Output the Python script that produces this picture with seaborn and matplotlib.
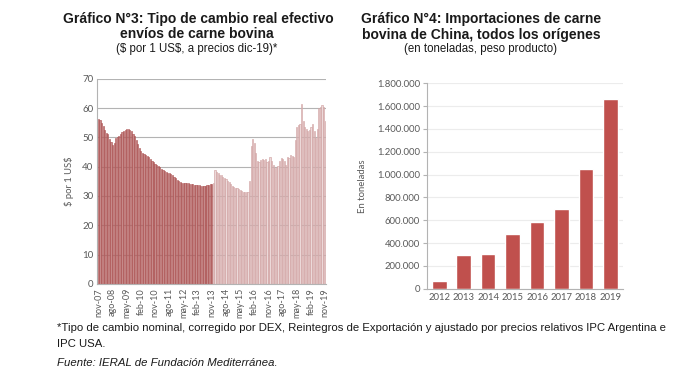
import matplotlib
matplotlib.use("Agg")
import matplotlib.pyplot as plt
import numpy as np
import pandas as pd
import seaborn as sns

# Gráfico 3: tipo de cambio real efectivo, mensual nov-07 .. nov-19
tcr = [
    56.3, 55.8, 55.0, 54.0, 52.5, 51.5, 51.0, 49.5, 48.3, 47.5,
    48.0, 49.8, 50.2, 50.5, 51.0, 51.8, 52.3, 52.5, 52.8, 52.8,
    52.5, 52.0, 51.3, 50.3, 49.0, 47.8, 46.2, 45.3, 44.8, 44.4,
    44.0, 43.6, 43.2, 42.6, 42.0, 41.5, 41.0, 40.6, 40.3, 39.8,
    39.2, 38.9, 38.6, 38.3, 38.0, 37.7, 37.4, 37.0, 36.5, 36.0,
    35.5, 35.0, 34.7, 34.5, 34.4, 34.3, 34.3, 34.3, 34.2, 34.2,
    34.0, 33.9, 33.8, 33.7, 33.6, 33.5, 33.5, 33.4, 33.5, 33.7,
    33.9, 34.0, 34.2, 34.5, 39.0, 38.2, 37.8, 37.3, 37.0, 36.5,
    36.2, 35.8, 35.2, 34.6, 34.2, 33.4, 33.0, 32.8, 32.6, 32.3,
    32.0, 31.8, 31.5, 31.3, 31.5, 31.3, 35.0, 47.0, 49.3, 48.2,
    44.8, 41.8, 41.5, 42.3, 42.5, 42.2, 42.7, 41.7, 42.0, 43.4,
    41.8, 40.6, 39.5, 40.0, 40.2, 42.0, 43.0, 42.5, 42.0, 40.6,
    43.4, 43.0, 44.0, 43.8, 43.4, 49.0, 53.7, 54.2, 54.4, 61.3,
    55.6, 53.5, 53.0, 52.0, 52.6, 53.7, 54.4, 52.0, 49.8, 53.0,
    60.0, 60.5, 61.0, 60.3, 55.5,
]
n_oscuro = 73  # hasta nov-13 inclusive
tick_meses = ["nov-07", "ago-08", "may-09", "feb-10", "nov-10", "ago-11",
              "may-12", "feb-13", "nov-13", "ago-14", "may-15", "feb-16",
              "nov-16", "ago-17", "may-18", "feb-19", "nov-19"]

# Gráfico 4: importaciones de carne bovina de China (toneladas)
anios = ["2012", "2013", "2014", "2015", "2016", "2017", "2018", "2019"]
importaciones = [67000, 295000, 301000, 476000, 581000, 698000, 1046000, 1666000]

sns.set_style("white")
plt.rcParams['font.family'] = ['Liberation Sans', 'DejaVu Sans']
tick_font = ['Lato', 'DejaVu Sans']
gris = '#595959'

fig = plt.figure(figsize=(6.91, 3.75), dpi=100)
ax1 = fig.add_axes([0.141, 0.243, 0.331, 0.547])
ax2 = fig.add_axes([0.618, 0.230, 0.283, 0.548])

# ---- grafico 3
df1 = pd.DataFrame({
    'mes': np.arange(len(tcr)),
    'valor': tcr,
    'periodo': ['a' if i < n_oscuro else 'b' for i in range(len(tcr))],
})
sns.barplot(data=df1, x='mes', y='valor', hue='periodo', dodge=False,
            palette={'a': '#d08080', 'b': '#efd6d6'}, width=0.75,
            legend=False, ax=ax1)
bordes = {0: '#a84848', 1: '#cc9a9a'}
for k, cont in enumerate(ax1.containers):
    for b in cont:
        b.set_edgecolor(bordes[k])
        b.set_linewidth(0.4)
ax1.set_xlim(-0.6, len(tcr) - 0.4)
ax1.set_ylim(0, 70)
ax1.set_yticks(range(0, 71, 10))
ax1.yaxis.grid(True, color='#b3b3b3', linewidth=0.8)
ax1.set_axisbelow(True)
ax1.set_xticks(range(0, len(tcr), 9))
ax1.set_xticklabels(tick_meses, rotation=90, fontsize=6.5, color=gris, family=tick_font)
for lab in ax1.get_yticklabels():
    lab.set_fontsize(7)
    lab.set_color(gris)
    lab.set_family(tick_font)
ax1.tick_params(axis='both', length=0, pad=3)
ax1.set_xlabel('')
ax1.set_ylabel(r'\$ por 1 US\$', fontsize=6.8, color=gris, family=tick_font, labelpad=6)
for s in ['top', 'right']:
    ax1.spines[s].set_visible(False)
ax1.spines['left'].set_color('#b3b3b3')
ax1.spines['bottom'].set_color('#b3b3b3')

# ---- grafico 4
df2 = pd.DataFrame({'anio': anios, 'ton': importaciones})
sns.barplot(data=df2, x='anio', y='ton', color='#c0504d', saturation=1,
            width=0.6, ax=ax2)
ax2.set_ylim(0, 1800000)
ax2.set_yticks(range(0, 1800001, 200000))
ax2.set_yticklabels([f"{v:,}".replace(',', '.') for v in range(0, 1800001, 200000)],
                    fontsize=6.8, color=gris, family=tick_font)
ax2.set_xticks(range(len(anios)))
ax2.set_xticklabels(anios, fontsize=6.8, color=gris, family=tick_font)
ax2.set_xticks(np.arange(-0.5, len(anios), 1), minor=True)
ax2.tick_params(axis='x', which='major', length=0, pad=3)
ax2.tick_params(axis='x', which='minor', length=3, color='#b3b3b3')
ax2.tick_params(axis='y', length=3, color='#b3b3b3', pad=2, left=True)
ax2.yaxis.grid(True, color='#ececec', linewidth=0.8)
ax2.set_axisbelow(True)
ax2.set_xlim(-0.5, len(anios) - 0.5)
ax2.set_xlabel('')
ax2.set_ylabel('En toneladas', fontsize=6.8, color=gris, family=tick_font, labelpad=7)
for s in ['top', 'right']:
    ax2.spines[s].set_visible(False)
ax2.spines['left'].set_color('#b3b3b3')
ax2.spines['bottom'].set_color('#b3b3b3')

# ---- titulos
negro = '#1a1a1a'
fig.text(0.287, 0.948, 'Gráfico N°3: Tipo de cambio real efectivo', ha='center',
         va='center', fontsize=10, fontweight='bold', color=negro)
fig.text(0.285, 0.908, 'envíos de carne bovina', ha='center', va='center',
         fontsize=10, fontweight='bold', color=negro)
fig.text(0.285, 0.870, r'(\$ por 1 US\$, a precios dic-19)*', ha='center', va='center',
         fontsize=8.3, color=negro)
fig.text(0.696, 0.948, 'Gráfico N°4: Importaciones de carne', ha='center',
         va='center', fontsize=10, fontweight='bold', color=negro)
fig.text(0.696, 0.908, 'bovina de China, todos los orígenes', ha='center',
         va='center', fontsize=10, fontweight='bold', color=negro)
fig.text(0.696, 0.870, '(en toneladas, peso producto)', ha='center', va='center',
         fontsize=8.3, color=negro)

# ---- notas
fig.text(0.082, 0.125, '*Tipo de cambio nominal, corregido por DEX, Reintegros de Exportación '
         'y ajustado por precios relativos IPC Argentina e', ha='left', va='center',
         fontsize=8.2, color=negro)
fig.text(0.082, 0.083, 'IPC USA.', ha='left', va='center', fontsize=8.2, color=negro)
fig.text(0.082, 0.032, 'Fuente: IERAL de Fundación Mediterránea.', ha='left', va='center',
         fontsize=8.2, style='italic', color=negro)

fig.savefig('out.png', dpi=100)
